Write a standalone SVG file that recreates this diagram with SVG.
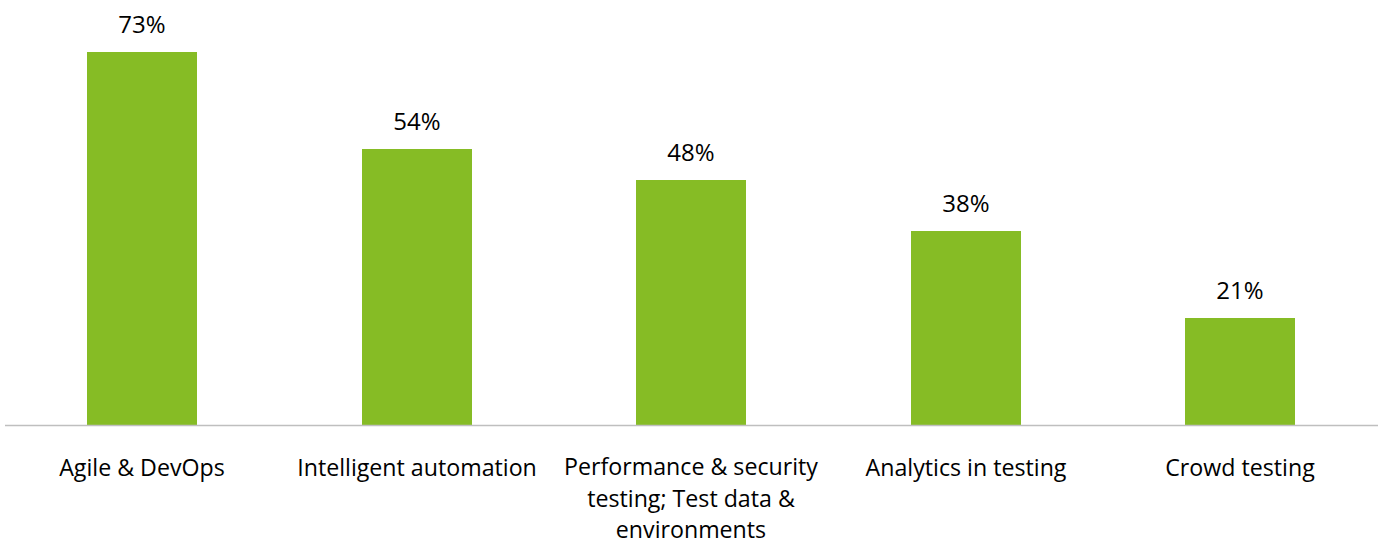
<svg xmlns="http://www.w3.org/2000/svg" width="1382" height="544" viewBox="0 0 1382 544">
<style>
.bar{fill:#86BC25}
.val,.cat{font-family:"Open Sans","Liberation Sans",sans-serif;fill:#000;text-anchor:middle}
.val{font-size:24px}
.cat{font-size:23.2px}
.axis{stroke:#BFBFBF;stroke-width:1.5}
</style>
<rect width="1382" height="544" fill="#fff"/>
<g id="bar-agile"><rect class="bar" x="87" y="52" width="110" height="373"/><text class="val" x="142" y="33">73%</text><text class="cat" x="142" y="476">Agile &amp; DevOps</text></g>
<g id="bar-intelligent"><rect class="bar" x="362" y="149" width="110" height="276"/><text class="val" x="417" y="130">54%</text><text class="cat" x="417" y="476">Intelligent automation</text></g>
<g id="bar-performance"><rect class="bar" x="636" y="180" width="110" height="245"/><text class="val" x="691" y="161">48%</text><text class="cat" x="691" y="475">Performance &amp; security</text><text class="cat" x="691" y="507">testing; Test data &amp;</text><text class="cat" x="691" y="538">environments</text></g>
<g id="bar-analytics"><rect class="bar" x="911" y="231" width="110" height="194"/><text class="val" x="966" y="212">38%</text><text class="cat" x="966" y="476">Analytics in testing</text></g>
<g id="bar-crowd"><rect class="bar" x="1185" y="318" width="110" height="107"/><text class="val" x="1240" y="299">21%</text><text class="cat" x="1240" y="476">Crowd testing</text></g>
<g id="connectors"><line class="axis" x1="5" y1="425.5" x2="1378" y2="425.5"/></g>
</svg>
